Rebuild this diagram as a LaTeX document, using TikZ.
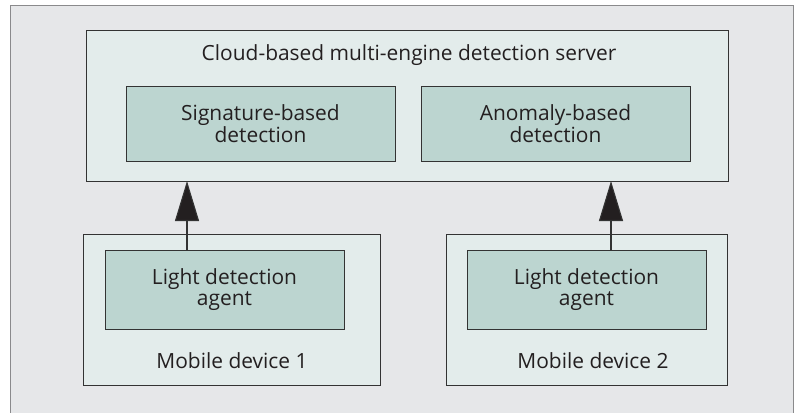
\documentclass[tikz,border=0pt]{standalone}
\usepackage{fontspec}
\setmainfont{Open Sans}
\usetikzlibrary{arrows.meta}
\definecolor{frameGray}{HTML}{E6E7E9}
\definecolor{frameLine}{HTML}{8A8A8C}
\definecolor{boxLight}{HTML}{E3ECEB}
\definecolor{boxDark}{HTML}{BCD5D0}
\definecolor{boxLine}{HTML}{333333}
\definecolor{textDark}{HTML}{231F20}
\tikzset{
  det diagram/.style={
    x=1bp, y=-1bp,
    every node/.style={font=\fontsize{21}{20.5}\selectfont,
      text=textDark, align=center, inner sep=0pt, outer sep=0pt},
  },
  det outer/.style={draw=boxLine, fill=boxLight, line width=0.9bp,
    rectangle},
  det inner/.style={draw=boxLine, fill=boxDark, line width=0.9bp,
    rectangle},
  det link/.style={draw=boxLine, line width=1.1bp,
    -{Triangle[length=40bp,width=24bp,fill=textDark]}}
}

\begin{document}
\begin{tikzpicture}[det diagram]
    \useasboundingbox (0,0) rectangle (797,412);
    \fill[frameGray] (10,5) rectangle (793,420);
    \draw[frameLine, line width=1bp] (10,420) -- (10,5) -- (793,5) -- (793,420);
    % server side
    \node[det outer, minimum width=642bp, minimum height=151bp] (server) at (407,105.5) {};
    \node (servertitle) at (409,55) {Cloud-based multi-engine detection server};
    \node[det inner, minimum width=269bp, minimum height=75bp] (sig) at (260.5,123.5)
      {Signature-based\\detection};
    \node[det inner, minimum width=269bp, minimum height=75bp] (anom) at (555.5,123.5)
      {Anomaly-based\\detection};
    % devices
    \node[det outer, minimum width=297bp, minimum height=151bp] (dev1) at (231.5,309.5) {};
    \node[det inner, minimum width=239bp, minimum height=79bp] (agent1) at (224.5,289.5)
      {Light detection\\agent};
    \node (dev1label) at (232,361) {Mobile device 1};
    \node[det outer, minimum width=281bp, minimum height=151bp] (dev2) at (586.5,309.5) {};
    \node[det inner, minimum width=239bp, minimum height=79bp] (agent2) at (586.5,289.5)
      {Light detection\\agent};
    \node (dev2label) at (593,361) {Mobile device 2};
    % uplinks
    \draw[det link] ([xshift=-37.5bp]agent1.north) coordinate (up1) -- (up1 |- server.south);
    \draw[det link] ([xshift=24.5bp]agent2.north) coordinate (up2) -- (up2 |- server.south);
\end{tikzpicture}
\end{document}
